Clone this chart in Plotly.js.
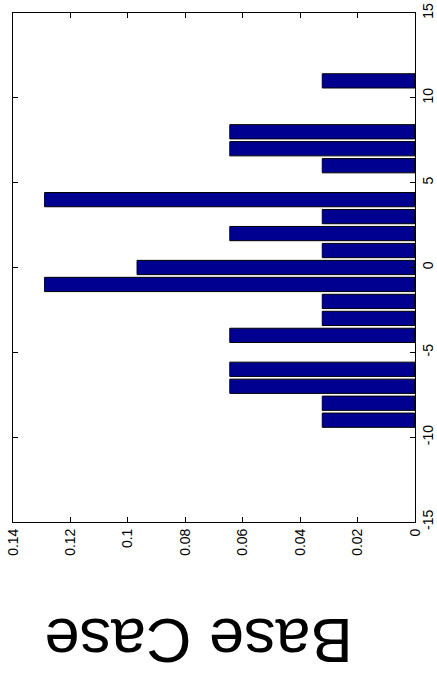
<!DOCTYPE html>
<html>
<head>
<meta charset="utf-8">
<script src="https://cdn.plot.ly/plotly-3.0.1.min.js"></script>
<style>html,body{margin:0;padding:0;background:#fff;}#chart{width:437px;height:677px;}</style>
</head>
<body>
<div id="chart"></div>
<script>
// Histogram bins (value axis) and relative frequencies
const bins = [-9, -8, -7, -6, -4, -3, -2, -1, 0, 1, 2, 3, 4, 6, 7, 8, 11];
const freq = [0.0323, 0.0323, 0.0645, 0.0645, 0.0645, 0.0323, 0.0323, 0.129, 0.0968, 0.0323, 0.0645, 0.0323, 0.129, 0.0323, 0.0645, 0.0645, 0.0323];
const freqTicks = [0, 0.02, 0.04, 0.06, 0.08, 0.1, 0.12, 0.14];
const freqTickLabels = ['0', '0.02', '0.04', '0.06', '0.08', '0.1', '0.12', '0.14'];
const binTicks = [-15, -10, -5, 0, 5, 10, 15];
const binTickLabels = ['-15', '-10', '-5', '0', '5', '10', '15'];
const titleText = 'Base Case';

const trace = {
  type: 'bar',
  orientation: 'h',
  x: freq,
  y: bins,
  marker: {color: '#000090', line: {color: '#000000', width: 1}},
  hoverinfo: 'none'
};

const font = {family: 'Liberation Sans, Arial, Helvetica, sans-serif', size: 14, color: '#000'};

const layout = {
  width: 437, height: 677,
  margin: {l: 13, r: 22, t: 13, b: 155, pad: 0},
  paper_bgcolor: '#fff', plot_bgcolor: '#fff',
  showlegend: false,
  bargap: 0.16,
  font: font,
  xaxis: {
    range: [0.14, 0], tickvals: freqTicks, ticktext: freqTickLabels,
    tickangle: -90, ticks: 'inside', ticklen: 5, tickwidth: 1, tickcolor: '#000',
    showline: true, linecolor: '#000', linewidth: 1, mirror: 'allticks',
    showgrid: false, zeroline: false, tickfont: font
  },
  yaxis: {
    side: 'right', range: [-15, 15], tickvals: binTicks, ticktext: binTickLabels,
    tickangle: -90, ticks: 'inside', ticklen: 5, tickwidth: 1, tickcolor: '#000',
    showline: true, linecolor: '#000', linewidth: 1, mirror: 'allticks',
    showgrid: false, zeroline: false, tickfont: font
  },
  annotations: [{
    text: titleText, xref: 'paper', yref: 'paper', x: 0.461, y: -0.234,
    xanchor: 'center', yanchor: 'middle', showarrow: false, textangle: 180,
    font: {family: 'Liberation Sans, Arial, Helvetica, sans-serif', size: 63, color: '#000'}
  }]
};

Plotly.newPlot('chart', [trace], layout, {displayModeBar: false, staticPlot: true});
</script>
</body>
</html>
